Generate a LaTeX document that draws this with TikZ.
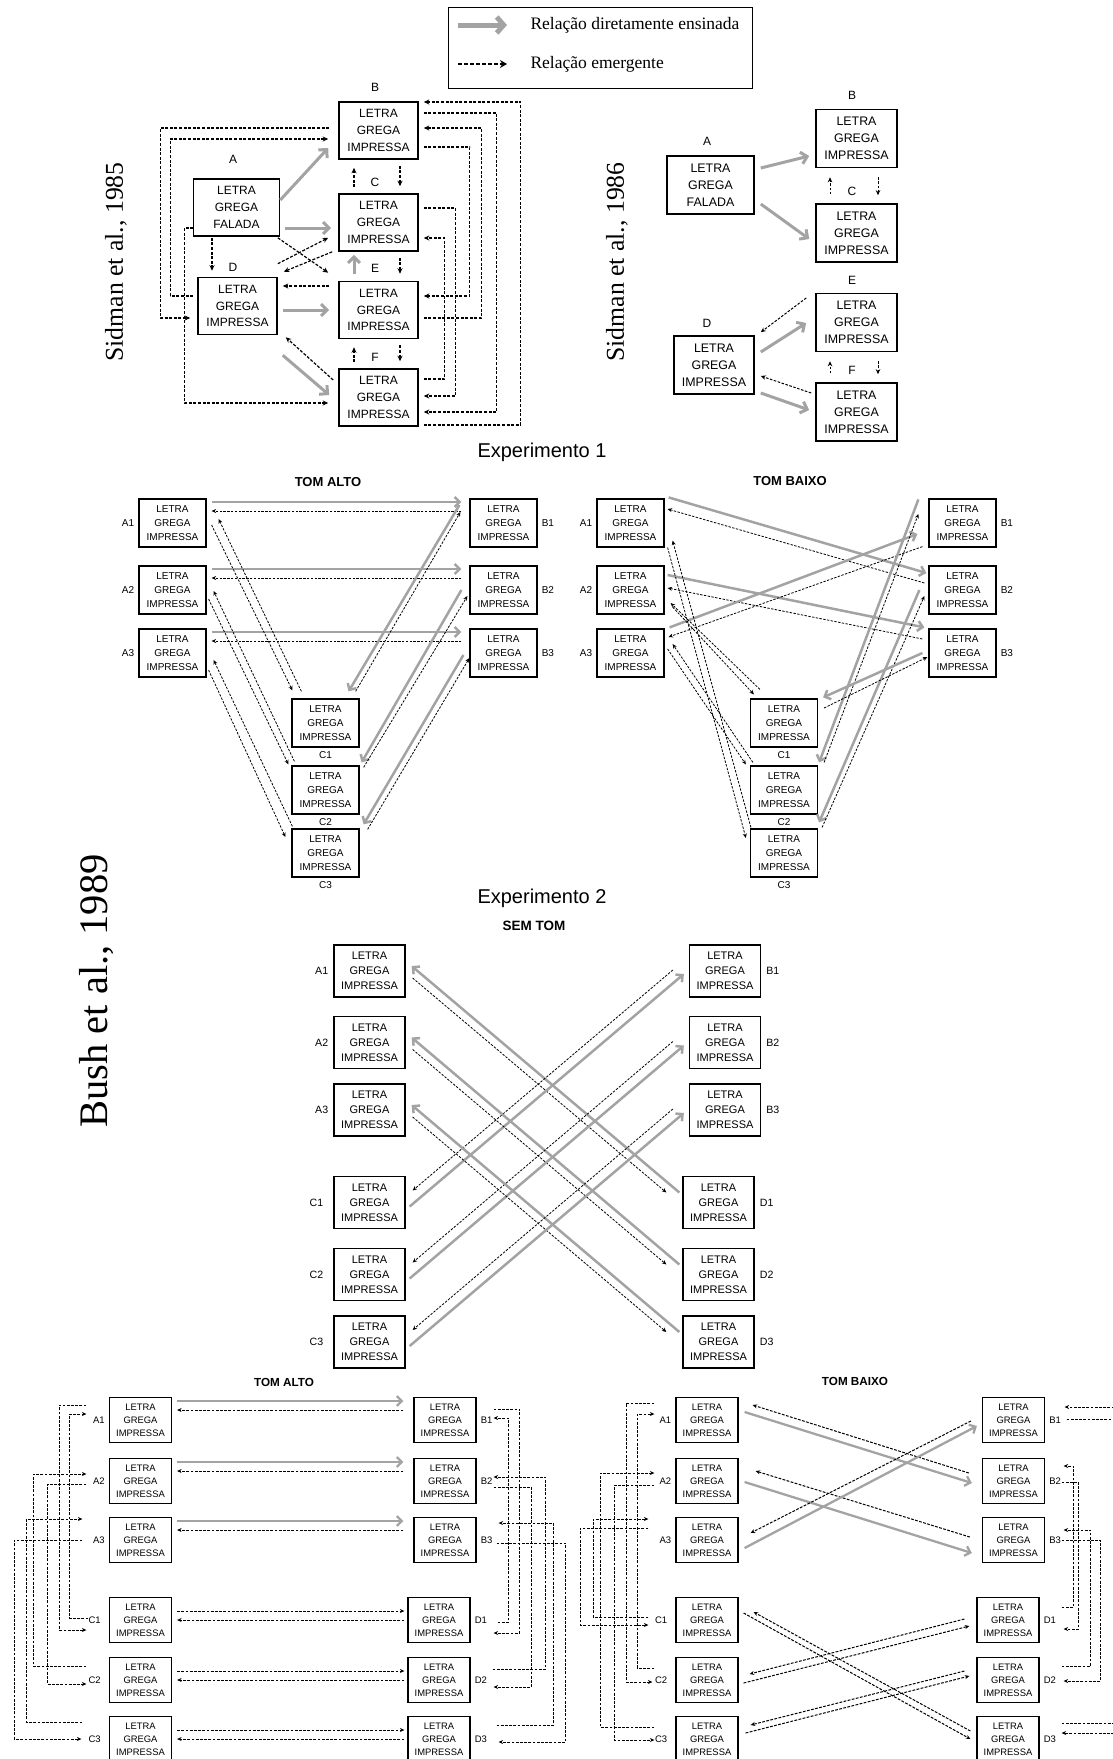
\documentclass[tikz,border=0pt]{standalone}
\usepackage{fontspec}
\setmainfont{Liberation Serif}
\setsansfont{Liberation Sans}
\usetikzlibrary{arrows.meta}
\newcommand{\lgi}{LETRA\\GREGA\\IMPRESSA}
\newcommand{\lgf}{LETRA\\GREGA\\FALADA}
\newcommand{\fsz}[2]{\fontsize{#1}{#2}\selectfont}
\begin{document}
\begin{tikzpicture}[x=1pt,y=-1pt,
  box/.style={draw,line width=1.3pt,align=center,inner sep=0pt,font=\sffamily},
  tag/.style={inner sep=1pt,font=\sffamily},
  head/.style={font=\sffamily\bfseries},
  taught/.style={draw=black!36,line width=2.5pt,-{Straight Barb[length=5pt,width=10pt]}},
  emerg/.style={draw=black,line width=0.8pt,dash pattern=on 2.4pt off 1.4pt,-{Stealth[length=4.5pt,width=4pt]}}]
\useasboundingbox (0,0) rectangle (1113,1759);
\clip (0,0) rectangle (1113,1759);
% Legend
\node[draw,line width=0.9pt,minimum width=304pt,minimum height=81pt] (key) at (600,47.5) {};
\node[anchor=west,font=\fsz{17.5}{20}] (keyT) at (527,25) {Relação diretamente ensinada};
\node[anchor=west,font=\fsz{17.5}{20}] (keyE) at (527,64) {Relação emergente};
\draw[taught,line width=5pt,-{Straight Barb[length=7pt,width=16pt]}] ([xshift=-69pt]keyT.west) -- ([xshift=-20pt]keyT.west);
\draw[emerg,line width=1.6pt,dash pattern=on 4pt off 2pt,-{Stealth[length=7pt,width=8pt]}] ([xshift=-69pt]keyE.west) -- ([xshift=-20pt]keyE.west);

% Top left: Sidman et al., 1985
\begin{scope}[box/.append style={minimum width=79pt,minimum height=57pt,line width=1.6pt,font=\sffamily\fsz{12}{16.7}},
  tag/.append style={font=\sffamily\fsz{12}{14}},
  emerg/.append style={line width=1.2pt,dash pattern=on 3pt off 1.6pt,-{Stealth[length=5.5pt,width=5pt]}},
  taught/.append style={line width=3pt,-{Straight Barb[length=6pt,width=12pt]}}]
\node[rotate=90,font=\fsz{25.7}{28}] (s5ttl) at (116,262) {Sidman et al., 1985};
\node[box,minimum width=86pt] (sA) at (236.5,207.5) {\lgf};
\node[box] (sB) at (378.5,130.5) {\lgi};
\node[box] (sC) at (378.5,222.5) {\lgi};
\node[box] (sD) at (237.5,306) {\lgi};
\node[box] (sE) at (378.5,310) {\lgi};
\node[box] (sF) at (378.5,397.5) {\lgi};
\foreach \n/\x/\y in {A/233/159,B/375/87,C/375/182,D/233/267,E/375/268,F/375/357}
  \node[tag] (st\n) at (\x,\y) {\n};
\draw[taught] ([shift={(0,-7.5)}]sA.east) -- ([shift={(-10,17.5)}]sB.west);
\draw[taught] ([shift={(5,20.5)}]sA.east) -- ([shift={(-7,5.5)}]sC.west);
\draw[emerg] ([shift={(-24.5,1)}]sA.south) -- ([shift={(-25.5,-6)}]sD.north);
\draw[emerg] ([shift={(-2.5,1)}]sA.south east) -- ([shift={(-10,-8)}]sE.north west);
\draw[emerg] ([shift={(0,-13)}]sD.north east) -- ([shift={(-10,-14)}]sC.south west);
\draw[emerg] ([shift={(-6,0)}]sC.south west) -- ([shift={(6,-5)}]sD.north east);
\draw[emerg] ([shift={(-9,-24)}]sE.west) -- ([shift={(5,-20)}]sD.east);
\draw[taught] ([shift={(5,4)}]sD.east) -- ([shift={(-9,0)}]sE.west);
\draw[taught] ([shift={(5,20)}]sD.south east) -- ([shift={(-9,-2.5)}]sF.west);
\draw[emerg] ([shift={(-5,-17.5)}]sF.west) -- ([shift={(8,2)}]sD.south east);
\foreach \lo/\up in {sC/sB,sF/sE}
  \draw[emerg] ([shift={(-24.5,-6)}]\lo.north) -- ([shift={(-24.5,8)}]\up.south);
\draw[taught] ([shift={(-24.5,-7)}]sE.north) -- ([shift={(-24.5,3)}]sC.south);
\foreach \up/\lo in {sB/sC,sC/sE,sE/sF}
  \draw[emerg] ([shift={(21.5,6)}]\up.south) -- ([shift={(21.5,-7)}]\lo.north);
% loops, left
\draw[emerg] ([shift={(-9,-2.5)}]sB.west) -- ++(-169,0) |- ([shift={(-7,12)}]sD.west);
\draw[emerg] ([shift={(-4,-10)}]sD.west) -- ++(-23,0) |- ([shift={(-10,8.5)}]sB.west);
\draw[emerg] ([shift={(0.5,20.5)}]sA.west) -- ++(-9,0) |- ([shift={(-10,5.5)}]sF.west);
% loops, right
\draw[emerg] ([shift={(5,-17.5)}]sB.east) -- ++(73,0) |- ([shift={(5,14.5)}]sF.east);
\draw[emerg] ([shift={(5,16.5)}]sB.east) -- ++(46,0) |- ([shift={(5,-14)}]sE.east);
\draw[emerg] ([shift={(5,27.5)}]sF.east) -- ++(97,0) |- ([shift={(5,-28.5)}]sB.east);
\draw[emerg] ([shift={(5,8)}]sE.east) -- ++(58,0) |- ([shift={(5,-2.5)}]sB.east);
\draw[emerg] ([shift={(5,-14.5)}]sC.east) -- ++(32,0) |- ([shift={(5,-1.5)}]sF.east);
\draw[emerg] ([shift={(5,-18.5)}]sF.east) -- ++(21,0) |- ([shift={(5,15.5)}]sC.east);
\end{scope}

% Top right: Sidman et al., 1986
\begin{scope}[box/.append style={minimum width=81pt,minimum height=58pt,line width=1.6pt,font=\sffamily\fsz{12.4}{17}},
  tag/.append style={font=\sffamily\fsz{12}{14}},
  emerg/.append style={line width=1pt,dash pattern=on 2.6pt off 1.5pt,-{Stealth[length=5pt,width=4.5pt]}},
  taught/.append style={line width=3pt,-{Straight Barb[length=6pt,width=12pt]}}]
\node[rotate=90,font=\fsz{25.7}{28}] (s6ttl) at (617,262) {Sidman et al., 1986};
\node[box,minimum width=87pt] (tA) at (710.5,185) {\lgf};
\node[box] (tB) at (856.5,138.5) {\lgi};
\node[box] (tC) at (856.5,233) {\lgi};
\node[box,minimum width=80pt] (tD) at (714,365) {\lgi};
\node[box] (tE) at (856.5,322.5) {\lgi};
\node[box] (tF) at (856.5,412) {\lgi};
\foreach \n/\x/\y in {A/707/141,B/852/95,C/852/191,D/707/323,E/852/280,F/852/370}
  \node[tag] (tt\n) at (\x,\y) {\n};
\draw[taught] ([shift={(6,-17)}]tA.east) -- ([shift={(-6,17.5)}]tB.west);
\draw[taught] ([shift={(6,19)}]tA.east) -- ([shift={(-6,6)}]tC.west);
\draw[emerg] ([shift={(-9,-24.5)}]tE.west) -- ([shift={(6,-3)}]tD.north east);
\draw[taught] ([shift={(6,-13)}]tD.east) -- ([shift={(-9,0.5)}]tE.west);
\draw[emerg] ([shift={(-4,-19)}]tF.west) -- ([shift={(6,11)}]tD.east);
\draw[taught] ([shift={(6,28)}]tD.east) -- ([shift={(-6,-2)}]tF.west);
\foreach \up/\lo in {tB/tC,tE/tF} {
  \draw[emerg] ([shift={(-26.5,-9)}]\lo.north) -- ([shift={(-26.5,9)}]\up.south);
  \draw[emerg] ([shift={(21.5,9)}]\up.south) -- ([shift={(21.5,-8)}]\lo.north);
}
\end{scope}

\node[font=\sffamily\fsz{20}{22}] (exp1) at (542,452) {Experimento 1};
\node[font=\sffamily\fsz{20}{22}] (exp2) at (542,898) {Experimento 2};
\node[rotate=90,font=\fsz{40.5}{44}] (bush) at (97,991) {Bush et al., 1989};

% Experimento 1: tom alto / tom baixo
\begin{scope}[box/.append style={minimum width=67pt,minimum height=48pt,line width=1.2pt,font=\sffamily\fsz{10}{13.8}},
  tag/.append style={font=\sffamily\fsz{10}{12}},label distance=3pt,
  head/.append style={font=\sffamily\bfseries\fsz{13}{15}}]
\node[head] (hT) at (328,482) {TOM ALTO};
\node[head] (lT) at (790,481) {TOM BAIXO};
\foreach \i/\y in {1/523,2/590,3/653} {
  \node[box,label={[tag]left:A\i}] (hA\i) at (172.5,\y) {\lgi};
  \node[box,label={[tag]right:B\i}] (hB\i) at (503.5,\y) {\lgi};
  \node[box,label={[tag]left:A\i}] (lA\i) at (630.5,\y) {\lgi};
  \node[box,label={[tag]right:B\i}] (lB\i) at (962.5,\y) {\lgi};
  \draw[taught] ([shift={(5,-21)}]hA\i.east) -- ([shift={(-8,-21)}]hB\i.west);
  \draw[emerg] ([shift={(-8,-12)}]hB\i.west) -- ([shift={(5,-12)}]hA\i.east);
}
\foreach \i/\y in {1/723,2/790,3/853} {
  \node[box,label={[tag]below:C\i}] (hC\i) at (325.5,\y) {\lgi};
  \node[box,label={[tag]below:C\i}] (lC\i) at (784,\y) {\lgi};
}
% tom alto
\draw[emerg] ([shift={(5,2)}]hA1.east) -- ([shift={(1,-8)}]hC1.north west);
\draw[emerg] ([shift={(10,-7)}]hC1.north west) -- ([shift={(12,-4)}]hA1.east);
\draw[emerg] ([shift={(2,9)}]hA2.east) -- ([shift={(-3,-1)}]hC2.north west);
\draw[emerg] ([shift={(3,-4)}]hC2.north west) -- ([shift={(7,1)}]hA2.east);
\draw[emerg] ([shift={(2,17)}]hA3.east) -- ([shift={(-6,-16)}]hC3.west);
\draw[emerg] ([shift={(1,-2)}]hC3.north west) -- ([shift={(7,7)}]hA3.east);
\draw[taught] ([shift={(-10,-18)}]hB1.west) -- ([shift={(-11,-7)}]hC1.north east);
\draw[emerg] ([shift={(-4,-7)}]hC1.north east) -- ([shift={(-9,-11)}]hB1.west);
\draw[taught] ([shift={(-8,0)}]hB2.west) -- ([shift={(2,-3)}]hC2.north east);
\draw[emerg] ([shift={(4,2)}]hC2.north east) -- ([shift={(-2,6)}]hB2.west);
\draw[taught] ([shift={(-6,2)}]hB3.west) -- ([shift={(4,-4)}]hC3.north east);
\draw[emerg] ([shift={(8,1)}]hC3.north east) -- ([shift={(0,5)}]hB3.west);
% tom baixo
\draw[taught] ([shift={(4,-1)}]lA1.north east) -- ([shift={(-2,-17)}]lB2.west);
\draw[emerg] ([shift={(-4,-7)}]lB2.west) -- ([shift={(3,-14)}]lA1.east);
\draw[taught] ([shift={(3,-15)}]lA2.east) -- ([shift={(-4,-1)}]lB3.north west);
\draw[emerg] ([shift={(-6,-14)}]lB3.west) -- ([shift={(3,-2)}]lA2.east);
\draw[taught] ([shift={(5,-1)}]lA3.north east) -- ([shift={(-11,11)}]lB1.west);
\draw[emerg] ([shift={(-6,-1)}]lB1.south west) -- ([shift={(4,-16)}]lA3.east);
\draw[emerg] ([shift={(3,0)}]lA1.south east) -- ([shift={(-4,-15)}]lC3.west);
\draw[emerg] ([shift={(1,-1)}]lC3.north west) -- ([shift={(8,-7)}]lA1.south east);
\draw[emerg] ([shift={(8,17)}]lA2.east) -- ([shift={(4,-4)}]lC1.north west);
\draw[emerg] ([shift={(10,-9)}]lC1.north west) -- ([shift={(6,13)}]lA2.east);
\draw[emerg] ([shift={(3,-4)}]lA3.east) -- ([shift={(-4,-1)}]lC2.north west);
\draw[emerg] ([shift={(3,-3)}]lC2.north west) -- ([shift={(8,-9)}]lA3.east);
\draw[taught] ([shift={(-10,1)}]lB1.north west) -- ([shift={(1,-3)}]lC2.north east);
\draw[emerg] ([shift={(6,-3)}]lC2.north east) -- ([shift={(-10,-9)}]lB1.west);
\draw[taught] ([shift={(-9,0)}]lB2.west) -- ([shift={(1,-6)}]lC3.north east);
\draw[emerg] ([shift={(4,-1)}]lC3.north east) -- ([shift={(-4,6)}]lB2.west);
\draw[taught] ([shift={(-6,0)}]lB3.west) -- ([shift={(5,-1)}]lC1.north east);
\draw[emerg] ([shift={(6,-15)}]lC1.east) -- ([shift={(-1,4)}]lB3.west);
\end{scope}

% Experimento 2: sem tom
\begin{scope}[box/.append style={minimum width=71pt,minimum height=52pt,line width=1.3pt,font=\sffamily\fsz{11}{15}},
  tag/.append style={font=\sffamily\fsz{10.6}{12}},label distance=4pt,
  head/.append style={font=\sffamily\bfseries\fsz{13.5}{15}}]
\node[head] (nT) at (534,926) {SEM TOM};
\foreach \i/\y/\z in {1/971/1202.5,2/1042.5/1274.5,3/1110/1342} {
  \node[box,label={[tag]left:A\i}] (nA\i) at (369.5,\y) {\lgi};
  \node[box,label={[tag]right:B\i}] (nB\i) at (725,\y) {\lgi};
  \node[box,label={[tag,xshift=-5pt]left:C\i}] (nC\i) at (369.5,\z) {\lgi};
  \node[box,label={[tag]right:D\i}] (nD\i) at (718.5,\z) {\lgi};
}
\foreach \i in {1,2,3} {
  \draw[taught] ([shift={(-3,-10)}]nD\i.west) -- ([shift={(6,-5)}]nA\i.east);
  \draw[emerg] ([shift={(7,7)}]nA\i.east) -- ([shift={(-16,-10)}]nD\i.west);
  \draw[taught] ([shift={(4,4)}]nC\i.east) -- ([shift={(-5,3)}]nB\i.west);
  \draw[emerg] ([shift={(-16,-1)}]nB\i.west) -- ([shift={(7,-12)}]nC\i.east);
}
\end{scope}

% Experimento 2: tom alto / tom baixo
\begin{scope}[box/.append style={minimum width=62pt,minimum height=45pt,line width=1.2pt,font=\sffamily\fsz{9.4}{12.8}},
  tag/.append style={font=\sffamily\fsz{9.5}{11}},label distance=3pt,
  emerg/.append style={line width=1pt,dash pattern=on 2.8pt off 1.4pt},
  taught/.append style={line width=2.3pt},
  head/.append style={font=\sffamily\bfseries\fsz{11.7}{13}}]
\node[head] (h2T) at (284,1382) {TOM ALTO};
\node[head] (l2T) at (855,1381) {TOM BAIXO};
\foreach \i/\y in {1/1420,2/1481,3/1540} {
  \node[box,label={[tag]left:A\i}] (h2A\i) at (140.5,\y) {\lgi};
  \node[box,label={[tag]right:B\i}] (h2B\i) at (445,\y) {\lgi};
  \node[box,label={[tag]left:A\i}] (l2A\i) at (707,\y) {\lgi};
  \node[box,label={[tag]right:B\i}] (l2B\i) at (1013.5,\y) {\lgi};
  \draw[taught] ([shift={(5,-19)}]h2A\i.east) -- ([shift={(-10,-19)}]h2B\i.west);
  \draw[emerg] ([shift={(-10,-10)}]h2B\i.west) -- ([shift={(5,-10)}]h2A\i.east);
}
\foreach \i/\y in {1/1620,2/1680,3/1739} {
  \node[box,label={[tag,xshift=-4pt]left:C\i}] (h2C\i) at (140.5,\y) {\lgi};
  \node[box,label={[tag]right:D\i}] (h2D\i) at (439,\y) {\lgi};
  \node[box,label={[tag,xshift=-4pt]left:C\i}] (l2C\i) at (707,\y) {\lgi};
  \node[box,label={[tag]right:D\i}] (l2D\i) at (1008,\y) {\lgi};
  \draw[emerg] ([shift={(5,-9)}]h2C\i.east) -- ([shift={(-3,-9)}]h2D\i.west);
  \draw[emerg] ([shift={(-3,0)}]h2D\i.west) -- ([shift={(5,0)}]h2C\i.east);
}
% tom alto, loops
\draw[emerg] ([shift={(-22.5,-15)}]h2A1.west) -- ++(-27,0) |- ([shift={(-22.5,10)}]h2C1.west);
\draw[emerg] ([shift={(-20.5,-2)}]h2C1.west) -- ++(-19,0) |- ([shift={(-22.5,-6)}]h2A1.west);
\draw[emerg] ([shift={(-22.5,-14)}]h2C2.west) -- ++(-53,0) |- ([shift={(-22.5,-7)}]h2A2.west);
\draw[emerg] ([shift={(-22.5,3)}]h2A2.west) -- ++(-39,0) |- ([shift={(-22.5,4)}]h2C2.west);
\draw[emerg] ([shift={(-26.5,-17)}]h2C3.west) -- ++(-56,0) |- ([shift={(-26.5,-21)}]h2A3.west);
\draw[emerg] ([shift={(-26.5,0)}]h2A3.west) -- ++(-68,0) |- ([shift={(-27.5,0)}]h2C3.west);
\draw[emerg] ([shift={(17,-11)}]h2B1.east) -- ++(26,0) |- ([shift={(23,13)}]h2D1.east);
\draw[emerg] ([shift={(27,2)}]h2D1.east) -- ++(11,0) |- ([shift={(17,-2)}]h2B1.east);
\draw[emerg] ([shift={(22,-11)}]h2D2.east) -- ++(53,0) |- ([shift={(17,-4)}]h2B2.east);
\draw[emerg] ([shift={(17,6)}]h2B2.east) -- ++(38,0) |- ([shift={(23,7)}]h2D2.east);
\draw[emerg] ([shift={(26,-14)}]h2D3.east) -- ++(57,0) |- ([shift={(22,-17)}]h2B3.east);
\draw[emerg] ([shift={(20,3)}]h2B3.east) -- ++(69,0) |- ([shift={(28,3)}]h2D3.east);
% tom baixo, crossing relations
\draw[taught] ([shift={(6,-8)}]l2A1.east) -- ([shift={(-10,2)}]l2B2.west);
\draw[emerg] ([shift={(-13,-8)}]l2B2.west) -- ([shift={(14,-15)}]l2A1.east);
\draw[taught] ([shift={(6,1)}]l2A2.east) -- ([shift={(-10,13)}]l2B3.west);
\draw[emerg] ([shift={(-12,-3)}]l2B3.west) -- ([shift={(17,-10)}]l2A2.east);
\draw[taught] ([shift={(6,8)}]l2A3.east) -- ([shift={(-5,6)}]l2B1.west);
\draw[emerg] ([shift={(-11,1)}]l2B1.west) -- ([shift={(12,-7)}]l2A3.east);
\draw[emerg] ([shift={(5,-7)}]l2C1.east) -- ([shift={(-6,0)}]l2D3.west);
\draw[emerg] ([shift={(-6,-8)}]l2D3.west) -- ([shift={(15,-8)}]l2C1.east);
\draw[emerg] ([shift={(5,3)}]l2C2.east) -- ([shift={(-7,6)}]l2D1.west);
\draw[emerg] ([shift={(-12,-1)}]l2D1.west) -- ([shift={(11,-6)}]l2C2.east);
\draw[emerg] ([shift={(7,-6)}]l2C3.east) -- ([shift={(-7,-4)}]l2D2.west);
\draw[emerg] ([shift={(-12,-9)}]l2D2.west) -- ([shift={(12,-14)}]l2C3.east);
% tom baixo, loops
\draw[emerg] ([shift={(-21,-17)}]l2A1.west) -- ++(-28,0) |- ([shift={(-23,2)}]l2C2.west);
\draw[emerg] ([shift={(-21,-12)}]l2C2.west) -- ++(-17,0) |- ([shift={(-21,-6)}]l2A1.west);
\draw[emerg] ([shift={(-27,-3)}]l2C1.west) -- ++(-55,0) |- ([shift={(-27,-21)}]l2A3.west);
\draw[emerg] ([shift={(-27,-12)}]l2A3.west) -- ++(-68,0) |- ([shift={(-27,5)}]l2C1.west);
\draw[emerg] ([shift={(-21,4)}]l2A2.west) -- ++(-40,0) |- ([shift={(-21,1)}]l2C3.west);
\draw[emerg] ([shift={(-21,-12)}]l2C3.west) -- ++(-54,0) |- ([shift={(-21,-8)}]l2A2.west);
\draw[emerg] ([shift={(21.5,-1)}]l2B1.east) -- ++(60,0) |- ([shift={(22,-6)}]l2D3.east);
\draw[emerg] ([shift={(22,-16)}]l2D3.east) -- ++(70,0) |- ([shift={(19.5,-13)}]l2B1.east);
\draw[emerg] ([shift={(22,-13)}]l2D1.east) -- ++(12,0) |- ([shift={(18.5,-15)}]l2B2.east);
\draw[emerg] ([shift={(16.5,1)}]l2B2.east) -- ++(17,0) |- ([shift={(24,9)}]l2D1.east);
\draw[emerg] ([shift={(22,-14)}]l2D2.east) -- ++(29,0) |- ([shift={(18.5,-10)}]l2B3.east);
\draw[emerg] ([shift={(16.5,0)}]l2B3.east) -- ++(39,0) |- ([shift={(24,1)}]l2D2.east);
\end{scope}
\end{tikzpicture}
\end{document}
